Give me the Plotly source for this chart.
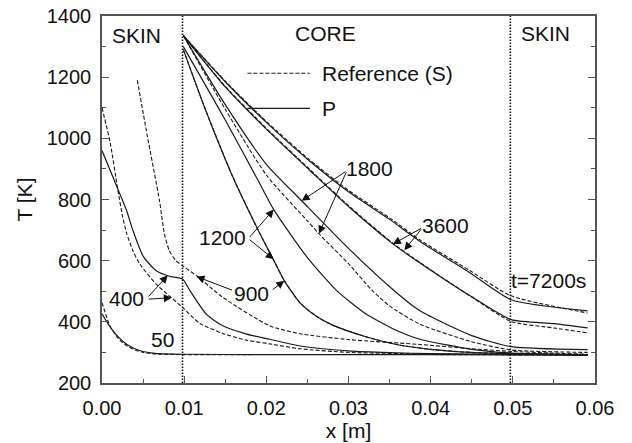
import plotly.graph_objects as go

# ---------------- data (x in m, T in K) ----------------
# t = 50 s
x_50 = [0, 0.001, 0.002, 0.003, 0.004, 0.005, 0.0065, 0.0098, 0.02, 0.03, 0.04, 0.05, 0.0591]
T_50_S = [463, 385, 345, 322, 308, 300, 295, 293, 293, 293, 293, 292, 291]
T_50_P = [426, 383, 350, 327, 312, 303, 297, 294, 293, 293, 293, 292, 291]

# t = 400 s
x_400_P = [0, 0.0015, 0.003, 0.00375, 0.005, 0.0066, 0.0082, 0.0098, 0.0107, 0.0127,
           0.0147, 0.0176, 0.0204, 0.0241, 0.03, 0.035, 0.04, 0.05, 0.0591]
T_400_P = [960, 862, 763, 700, 615, 567, 549, 540, 502, 425,
           387, 360, 343, 321, 305, 299, 296, 294, 292]
x_400_S = [0, 0.001, 0.0019, 0.0025, 0.003, 0.0038, 0.0046, 0.0066, 0.0084, 0.0098,
           0.0119, 0.0147, 0.0176, 0.0204, 0.0241, 0.03, 0.04, 0.05, 0.0591]
T_400_S = [1100, 985, 836, 745, 690, 630, 589, 523, 480, 447,
           395, 362, 340, 328, 312, 300, 295, 293, 291]

# t = 900 s
x_900_S = [0.0043, 0.0055, 0.007, 0.0076, 0.0082, 0.009, 0.0098, 0.0115, 0.0147, 0.0204,
           0.0241, 0.03, 0.0387, 0.045, 0.05, 0.0591]
T_900_S = [1190, 1010, 796, 687, 632, 600, 583, 551, 480, 387,
           361, 342, 326, 312, 303, 294]
x_900_P = [0.0099, 0.0125, 0.0159, 0.019, 0.0209, 0.0222, 0.0241, 0.0261, 0.028, 0.032,
           0.036, 0.04, 0.045, 0.0498, 0.0591]
T_900_P = [1290, 1100, 875, 700, 601, 534, 462, 418, 390, 352,
           325, 310, 300, 296, 292]

# t = 1200 s
x_1200_S = x_900_P
T_1200_S = T_900_P
x_1200_P = [0.0099, 0.015, 0.019, 0.0209, 0.025, 0.0286, 0.032, 0.0356, 0.0387, 0.045, 0.0498, 0.0591]
T_1200_P = [1300, 1060, 862, 767, 610, 501, 428, 375, 343, 310, 298, 293]

# t = 1800 s
x_1800_S = [0.0099, 0.015, 0.02, 0.025, 0.0264, 0.03, 0.0328, 0.035, 0.0387, 0.045, 0.0498, 0.0591]
T_1800_S = [1336, 1095, 880, 730, 688, 590, 505, 452, 392, 335, 308, 300]
x_1800_P = [0.0099, 0.015, 0.02, 0.0243, 0.03, 0.0356, 0.0387, 0.045, 0.0498, 0.0591]
T_1800_P = [1336, 1110, 915, 796, 640, 501, 436, 355, 319, 309]

# t = 3600 s
x_3600 = [0.0099, 0.015, 0.02, 0.0253, 0.03, 0.0354, 0.0387, 0.0415, 0.045, 0.0498, 0.055, 0.0591]
T_3600_P = [1336, 1168, 1030, 895, 777, 655, 592, 542, 482, 407, 394, 380]
T_3600_S = [1336, 1170, 1033, 898, 780, 657, 594, 543, 481, 401, 380, 364]

# t = 7200 s
x_7200 = [0.0099, 0.015, 0.02, 0.0253, 0.03, 0.035, 0.0387, 0.0448, 0.0498, 0.0591]
T_7200_P = [1336, 1185, 1052, 925, 825, 735, 663, 560, 472, 436]
T_7200_S = [1336, 1187, 1055, 929, 830, 740, 668, 567, 485, 429]

# skin/core interfaces
interfaces = [0.0098, 0.0497]

x_ticks = [0.00, 0.01, 0.02, 0.03, 0.04, 0.05, 0.06]
y_ticks = [200, 400, 600, 800, 1000, 1200, 1400]

# ---------------- figure ----------------
FONT = "Liberation Sans, Arial, Helvetica, sans-serif"
INK = "#1a1a1a"
DASH = "4px,2px"

fig = go.Figure()

solid_series = [
    (x_50, T_50_P), (x_400_P, T_400_P), (x_900_P, T_900_P), (x_1200_P, T_1200_P),
    (x_1800_P, T_1800_P), (x_3600, T_3600_P), (x_7200, T_7200_P),
]
dashed_series = [
    (x_50, T_50_S), (x_400_S, T_400_S), (x_900_S, T_900_S), (x_1200_S, T_1200_S),
    (x_1800_S, T_1800_S), (x_3600, T_3600_S), (x_7200, T_7200_S),
]

for xs, ts in dashed_series:
    fig.add_trace(go.Scatter(x=xs, y=ts, mode="lines", showlegend=False, hoverinfo="skip",
                             line=dict(color=INK, width=1.1, dash=DASH, shape="spline", smoothing=0.6)))
for xs, ts in solid_series:
    fig.add_trace(go.Scatter(x=xs, y=ts, mode="lines", showlegend=False, hoverinfo="skip",
                             line=dict(color=INK, width=1.2, shape="spline", smoothing=0.6)))

# interface lines
for xi in interfaces:
    fig.add_shape(type="line", xref="x", yref="y", x0=xi, x1=xi, y0=200, y1=1400,
                  line=dict(color="#111", width=1.6, dash="1.5px,1.5px"))

# legend samples
fig.add_shape(type="line", xref="x", yref="y", x0=0.0177, x1=0.0253, y0=1213, y1=1213,
              line=dict(color=INK, width=1.1, dash=DASH))
fig.add_shape(type="line", xref="x", yref="y", x0=0.0177, x1=0.0253, y0=1098, y1=1098,
              line=dict(color=INK, width=1.2))

def txt(x, y, s, xanchor="center"):
    fig.add_annotation(x=x, y=y, xref="x", yref="y", text=s, showarrow=False,
                       xanchor=xanchor, yanchor="middle",
                       font=dict(family=FONT, size=21, color="#111"))

def arrow(x_tail, y_tail, x_tip, y_tip):
    fig.add_annotation(x=x_tip, y=y_tip, ax=x_tail, ay=y_tail, xref="x", yref="y",
                       axref="x", ayref="y", text="", showarrow=True,
                       arrowhead=2, arrowsize=1.6, arrowwidth=1, arrowcolor="#111")

txt(0.0042, 1336, "SKIN")
txt(0.0272, 1343, "CORE")
txt(0.0540, 1343, "SKIN")
txt(0.0265, 1213, "Reference (S)", xanchor="left")
txt(0.0265, 1098, "P", xanchor="left")

txt(0.0074, 341, "50")
txt(0.0030, 475, "400")
txt(0.0182, 492, "900")
txt(0.0147, 675, "1200")
txt(0.0325, 901, "1800")
txt(0.0418, 714, "3600")
txt(0.0544, 534, "t=7200s")

# 400
arrow(0.0055, 478, 0.0080, 552)
arrow(0.0055, 474, 0.0085, 479)
# 900
arrow(0.0160, 502, 0.0115, 548)
arrow(0.0206, 502, 0.0222, 534)
# 1200
arrow(0.0178, 672, 0.0209, 767)
arrow(0.0178, 672, 0.0209, 605)
# 1800
arrow(0.0298, 894, 0.0243, 796)
arrow(0.0298, 894, 0.0264, 688)
# 3600
arrow(0.0390, 708, 0.0354, 654)
arrow(0.0390, 708, 0.0368, 634)

axis_common = dict(
    showline=True, linecolor="#555", linewidth=1.5, ticks="inside", ticklen=7,
    tickwidth=1, tickcolor="#555", showgrid=False, zeroline=False, automargin=False,
    tickfont=dict(family=FONT, size=20, color="#111"),
)

fig.update_xaxes(range=[0, 0.06], tickvals=x_ticks, tickformat=".2f", mirror=True,
                 minor=dict(dtick=0.005, tick0=0, ticks="inside", ticklen=4, tickcolor="#555", showgrid=False),
                 title=dict(text="x [m]", font=dict(family=FONT, size=21, color="#111"), standoff=6),
                 ticklabelstandoff=6, **axis_common)
fig.update_yaxes(range=[200, 1400], tickvals=y_ticks, mirror="allticks",
                 minor=dict(dtick=100, tick0=200, ticks="inside", ticklen=4, tickcolor="#555", showgrid=False),
                 title=dict(text="T [K]", font=dict(family=FONT, size=21, color="#111"), standoff=8),
                 ticklabelstandoff=5, **axis_common)

fig.update_layout(width=632, height=443, margin=dict(l=102, r=37, t=16, b=60, autoexpand=False),
                  paper_bgcolor="white", plot_bgcolor="white", showlegend=False)

fig.write_html("out.html")
